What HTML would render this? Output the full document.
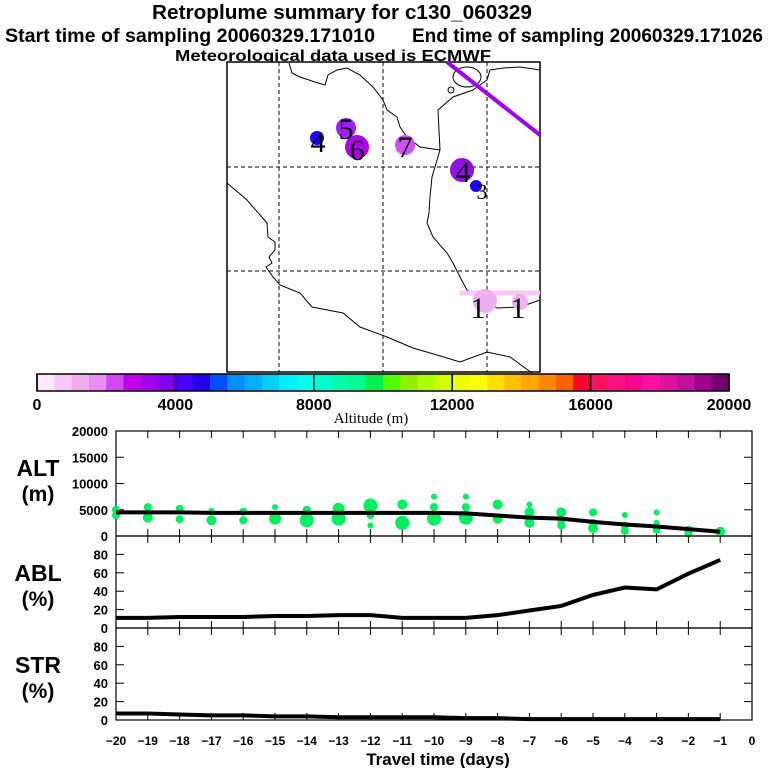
<!DOCTYPE html>
<html><head><meta charset="utf-8"><style>
html,body{margin:0;padding:0;background:#fff;width:768px;height:768px;overflow:hidden}
svg{display:block}
.t{font-family:"Liberation Sans",Arial,sans-serif;font-weight:bold;fill:#000}
</style></head><body>
<svg id="fig" width="768" height="768" viewBox="0 0 768 768" xmlns="http://www.w3.org/2000/svg">
<text class="t" x="342" y="19" font-size="20" text-anchor="middle" textLength="380" lengthAdjust="spacingAndGlyphs">Retroplume summary for c130_060329</text>
<text class="t" x="5" y="42" font-size="19" textLength="370" lengthAdjust="spacingAndGlyphs">Start time of sampling 20060329.171010</text>
<text class="t" x="412" y="42" font-size="19" textLength="351" lengthAdjust="spacingAndGlyphs">End time of sampling 20060329.171026</text>
<text class="t" x="333" y="61" font-size="16" text-anchor="middle" textLength="316" lengthAdjust="spacingAndGlyphs">Meteorological data used is ECMWF</text>

<g id="map">
<rect x="227" y="62" width="313" height="310" fill="#fff" stroke="#000" stroke-width="1.5"/>
<g stroke="#000" stroke-dasharray="4,3" stroke-width="1">
<line x1="279" y1="62" x2="279" y2="372"/><line x1="383" y1="62" x2="383" y2="372"/><line x1="487" y1="62" x2="487" y2="372"/>
<line x1="227" y1="167" x2="540" y2="167"/><line x1="227" y1="271" x2="540" y2="271"/>
</g>
<g fill="none" stroke="#000" stroke-width="1">
<polyline points="289,63 292,73 300,77 318,83 325,85 328,75 337,70 347,68 360,75 373,87 383,100 387,110 397,117 400,127 407,137 420,147 440,150"/>
<polyline points="440,150 438,110 453,97 473,90 487,80 490,70 503,68 520,67 540,70"/>
<polyline points="440,150 437,160 432,177 430,197 429,213 427,223 433,237 447,253 453,263 460,277 467,290 480,297 497,308 520,307 540,300"/>
<polyline points="227,183 247,200 267,223 268,237 275,242 275,250 269,257 272,263 266,267 273,277 280,285 300,293 312,307 343,313 360,327 387,337 413,348 437,355 460,362 487,352 510,357 532,373"/>
<ellipse cx="467" cy="77" rx="14" ry="10"/><circle cx="451" cy="90" r="3"/>
</g>
<line x1="447" y1="62" x2="540" y2="135" stroke="#a000f0" stroke-width="4"/>
<line x1="460" y1="293" x2="540" y2="293" stroke="#f8c8f8" stroke-width="5"/>
<g>
<circle cx="317" cy="138" r="7" fill="#2000f0"/>
<circle cx="346" cy="128" r="10" fill="#a020f0"/>
<circle cx="357" cy="147" r="12" fill="#b000e8"/>
<circle cx="405" cy="145" r="10" fill="#d050f0"/>
<circle cx="462" cy="170" r="12" fill="#9010e0"/>
<circle cx="476" cy="186" r="6" fill="#2000f0"/>
<circle cx="485" cy="301" r="12" fill="#f0b0f0"/>
<circle cx="520" cy="302" r="8" fill="#f0b0f0"/>
</g>
<g font-family="Liberation Serif,serif" font-size="30" fill="#000" text-anchor="middle">
<text x="318" y="152">4</text><text x="346" y="139">5</text><text x="357" y="160">6</text><text x="405" y="157">7</text><text x="463" y="182">4</text><text x="482" y="199" font-size="22">3</text><text x="478" y="318">1</text><text x="518" y="318">1</text>
</g>
</g>

<g id="cbar"></g>
<text x="371" y="423" font-family="Liberation Serif,serif" font-size="15" text-anchor="middle">Altitude (m)</text>

<g id="panels"></g>
</svg>
<script>
const ns="http://www.w3.org/2000/svg";
const svg=document.getElementById('fig');
function mk(tag,attrs,parent){const e=document.createElementNS(ns,tag);for(const k in attrs)e.setAttribute(k,attrs[k]);(parent||svg).appendChild(e);return e;}

// colorbar
const cbColors=["#ffe8ff","#f8c8f8","#f0b0f0","#e890f0","#d048f0","#c000f0","#a000f0","#8000f0",
"#4800ff","#2000f0","#0050ff","#0090ff","#00b0ff","#00d0ff","#00f0ff","#00ffe8",
"#00ffc8","#00ffa8","#00ff90","#00f050","#50ff00","#90f000","#b0ff00","#d0ff00",
"#f0ff00","#ffff00","#ffe000","#ffc000","#ffa800","#ff8800","#ff6000","#ff0030",
"#ff1060","#ff1080","#ff0090","#ff10a0","#e010a0","#c010a0","#a00090","#700070"];
const cbTicks=[0,4000,8000,12000,16000,20000];
const cb=document.getElementById('cbar');
const cbX=v=>37+v/20000*692;
cbColors.forEach((c,i)=>{const r=mk('rect',{x:37+i*692/40,y:374,width:692/40+0.5,height:17,fill:c},cb);

});
mk('rect',{x:37,y:374,width:692,height:17,fill:'none',stroke:'#000','stroke-width':1.5},cb);
cbTicks.forEach(v=>{mk('line',{x1:cbX(v),y1:374,x2:cbX(v),y2:391,stroke:'#000','stroke-width':1.5},cb);
const t=mk('text',{x:cbX(v),y:410,'font-size':16,'text-anchor':'middle',class:'t'},cb);t.textContent=v;

});

// panels data
const days=[-20,-19,-18,-17,-16,-15,-14,-13,-12,-11,-10,-9,-8,-7,-6,-5,-4,-3,-2,-1];
const altLine=[4500,4500,4500,4400,4400,4400,4400,4400,4400,4400,4400,4300,3900,3500,3300,2700,2200,1800,1300,800];
const ablLine=[11,11,12,12,12,13,13,14,14,11,11,11,14,19,24,36,44,42,59,74];
const strLine=[7,7,6,5,5,4,4,3,3,3,3,2,2,1,1,1,1,1,1,1];
const dotDays=[-20,-20,-19,-19,-18,-18,-17,-17,-16,-16,-15,-15,-14,-14,-13,-13,-12,-12,-12,-11,-11,-10,-10,-10,-9,-9,-9,-8,-8,-7,-7,-7,-6,-6,-6,-5,-5,-5,-4,-4,-4,-3,-3,-3,-2,-2,-1];
const dotAlts=[5000,4000,5500,3500,5200,3200,4800,3000,4600,3000,5500,3300,5000,3000,5200,3300,5800,4000,2000,6000,2500,7500,5500,3300,7500,5500,3500,6000,3300,6000,4500,2500,4500,3000,2000,4500,2500,1500,4000,2000,1000,4500,2500,1200,1200,500,800];
const dotSizes=[4,4,4,5,4,4,3,5,4,4,3,6,4,7,6,7,7,4,3,5,7,3,4,7,3,4,7,5,5,3,5,5,5,4,4,4,4,5,3,4,4,3,3,4,4,4,5];
const altTicks=[0,5000,10000,15000,20000];
const pctTicks=[0,20,40,60,80];
const xTicks=[-20,-19,-18,-17,-16,-15,-14,-13,-12,-11,-10,-9,-8,-7,-6,-5,-4,-3,-2,-1,0];

const X0=116,X1=752;
const xs=d=>X0+(d+20)/20*(X1-X0);
const P=document.getElementById('panels');
const panels=[{name:'alt',top:431,bot:536,max:20000,ticks:altTicks,line:altLine,lab:['ALT','(m)']},
{name:'abl',top:536,bot:628,max:100,ticks:pctTicks,line:ablLine,lab:['ABL','(%)']},
{name:'str',top:628,bot:720,max:100,ticks:pctTicks,line:strLine,lab:['STR','(%)']}];
panels.forEach(p=>{
 const g=mk('g',{},P);
 
 
 const ys=v=>p.bot-v/p.max*(p.bot-p.top);
 mk('rect',{x:X0,y:p.top,width:X1-X0,height:p.bot-p.top,fill:'none',stroke:'#000','stroke-width':1.2},g);
 p.ticks.forEach(v=>{const y=ys(v);
  mk('line',{x1:X0,y1:y,x2:X0+8,y2:y,stroke:'#000'},g);mk('line',{x1:X1-8,y1:y,x2:X1,y2:y,stroke:'#000'},g);
  const t=mk('text',{x:X0-8,y:y+5,'font-size':13,'text-anchor':'end',class:'t'},g);t.textContent=v;
  
  });
 xTicks.forEach(d=>{const x=xs(d);
  mk('line',{x1:x,y1:p.top,x2:x,y2:p.top+7,stroke:'#000'},g);mk('line',{x1:x,y1:p.bot-7,x2:x,y2:p.bot,stroke:'#000'},g);});
 const l1=mk('text',{x:38,y:p.top+45,'font-size':23,'text-anchor':'middle',class:'t'},g);l1.textContent=p.lab[0];
 
 
 const l2=mk('text',{x:38,y:p.top+70,'font-size':21,'text-anchor':'middle',class:'t'},g);l2.textContent=p.lab[1];
 
 
 if(p.name=='alt'){
  dotDays.forEach((d,i)=>{const c=mk('circle',{cx:xs(d),cy:ys(dotAlts[i]),r:dotSizes[i],fill:'#00f060'},g);
   
   });
 }
 const pl=mk('polyline',{points:days.map((d,i)=>xs(d)+','+ys(p.line[i])).join(' '),fill:'none',stroke:'#000','stroke-width':4},g);
 
 
});
xTicks.forEach(d=>{const t=mk('text',{x:xs(d),y:745,'font-size':12,'text-anchor':'middle',class:'t'},P);t.textContent=d==0?'0':'\u2212'+(-d);
 
 });
const xt=mk('text',{x:438,y:765,'font-size':17,'text-anchor':'middle',class:'t'},P);xt.textContent='Travel time (days)';


</script>
</body></html>
